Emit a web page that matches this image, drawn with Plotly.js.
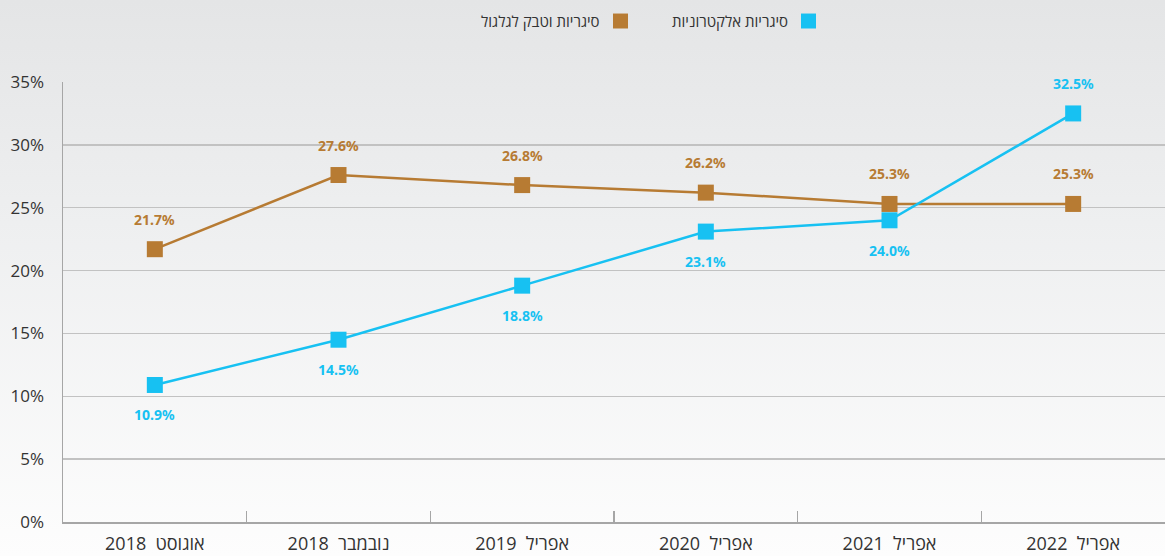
<!DOCTYPE html>
<html><head><meta charset="utf-8">
<script src="https://cdn.plot.ly/plotly-3.0.1.min.js"></script>
<style>
html,body{margin:0;padding:0;}
#chart{width:1165px;height:556px;background:linear-gradient(to bottom,#e4e5e6 0%,#eeeff0 40%,#fdfdfd 100%);}
</style></head>
<body><div id="chart"></div>
<script>
const categories = ["אוגוסט\u00A0 2018","נובמבר\u00A0 2018","אפריל\u00A0 2019","אפריל\u00A0 2020","אפריל\u00A0 2021","אפריל\u00A0 2022"];
const eCig = [10.9, 14.5, 18.8, 23.1, 24.0, 32.5];
const tobacco = [21.7, 27.6, 26.8, 26.2, 25.3, 25.3];
const eCigName = "סיגריות אלקטרוניות";
const tobaccoName = "סיגריות וטבק לגלגול";
const eCigLabelSide = [-1, -1, -1, -1, -1, 1];
const tobaccoLabelSide = [1, 1, 1, 1, 1, 1];
const yTicks = [0,5,10,15,20,25,30,35];

const BLUE = "#17c1f2", BROWN = "#b77b33";

const traces = [
  {x: categories, y: tobacco, type: "scatter", mode: "lines+markers", name: tobaccoName,
   line: {color: BROWN, width: 2.5}, marker: {symbol: "square", size: 16, color: BROWN}, showlegend: false},
  {x: categories, y: eCig, type: "scatter", mode: "lines+markers", name: eCigName,
   line: {color: BLUE, width: 2.5}, marker: {symbol: "square", size: 16, color: BLUE}, showlegend: false}
];

const annotations = [];
function addLabels(vals, sides, color){
  vals.forEach((v,i)=>{
    annotations.push({x: categories[i], y: v, xref: "x", yref: "y", text: v.toFixed(1) + "%",
      showarrow: false, yshift: sides[i]*30,
      font: {family: "Noto Sans, sans-serif", size: 14, color: color, weight: "bold"}});
  });
}
addLabels(tobacco, tobaccoLabelSide, BROWN);
addLabels(eCig, eCigLabelSide, BLUE);

// legend (RTL style: key on the right of the text)
const LEG_Y = 1.1386;
const legendItems = [[eCigName, BLUE, 0.6597, 0.6765], [tobaccoName, BROWN, 0.4891, 0.5059]];
const shapes = [];
legendItems.forEach(([name, color, xt, xs])=>{
  annotations.push({xref: "paper", yref: "paper", x: xt, y: LEG_Y, xanchor: "right", yanchor: "middle",
    text: name, showarrow: false, font: {family: "Open Sans, sans-serif", size: 15, color: "#333"}});
  shapes.push({type: "rect", xref: "paper", yref: "paper", x0: xs - 0.0068, x1: xs + 0.0068,
    y0: LEG_Y - 0.017, y1: LEG_Y + 0.017, fillcolor: color, line: {width: 0}});
});

const layout = {
  width: 1165, height: 556,
  margin: {l: 63, r: 0, t: 82, b: 34},
  paper_bgcolor: "rgba(0,0,0,0)", plot_bgcolor: "rgba(0,0,0,0)",
  font: {family: "Open Sans, sans-serif", color: "#333"},
  xaxis: {type: "category", range: [-0.5, 5.5], showgrid: false, zeroline: false,
    showline: true, linecolor: "#a6a6a6", linewidth: 2,
    ticks: "inside", tickson: "boundaries", ticklen: 11, tickcolor: "#a6a6a6", tickwidth: 1.2,
    tickfont: {size: 18, color: "#333"}, ticklabelstandoff: 4},
  yaxis: {range: [0, 35], tickvals: yTicks, ticktext: yTicks.map(v=>v+"%"),
    showgrid: true, gridcolor: "#c2c2c2", gridwidth: 1.5, zeroline: false,
    showline: true, linecolor: "#a6a6a6", linewidth: 1.5,
    tickfont: {size: 17, color: "#333"}, ticks: "", ticklabelstandoff: 14},
  annotations: annotations, shapes: shapes, showlegend: false
};

Plotly.newPlot("chart", traces, layout, {displayModeBar: false, staticPlot: true});
</script></body></html>
